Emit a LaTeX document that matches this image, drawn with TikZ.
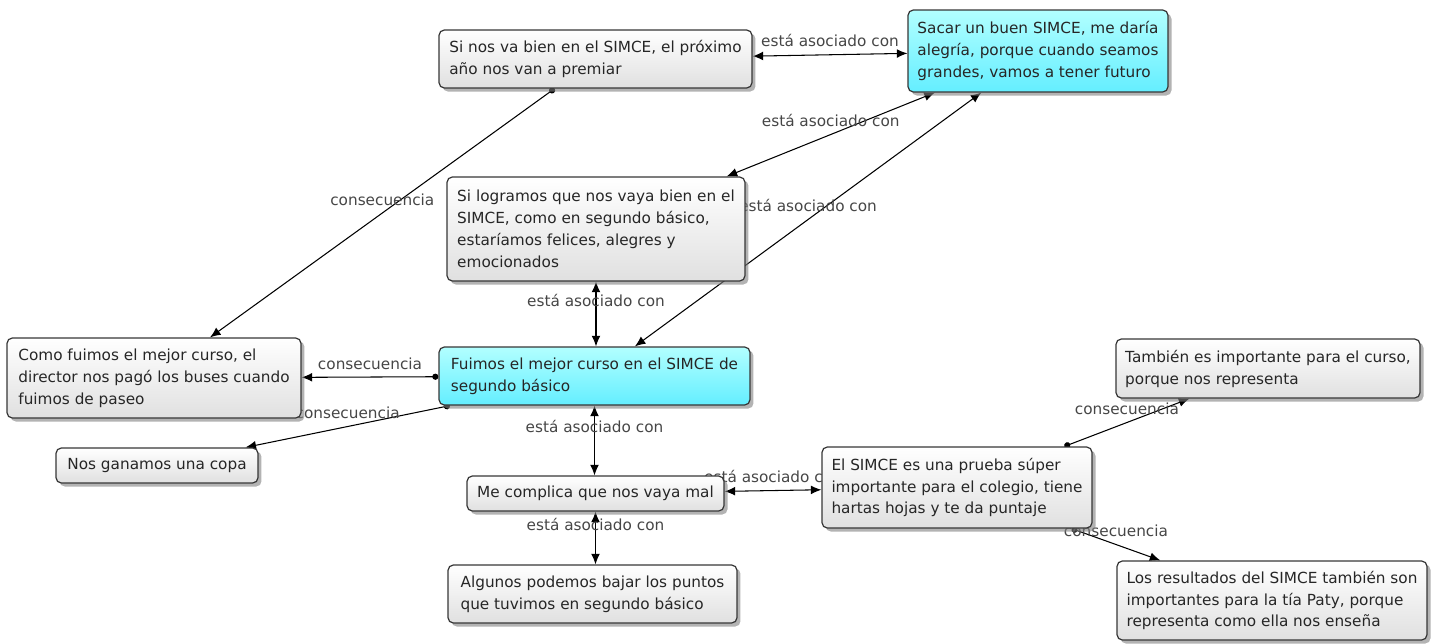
\documentclass[tikz,border=0pt]{standalone}
\usepackage{fontspec}
\setmainfont{DejaVu Sans}
\usetikzlibrary{arrows.meta,shadows,backgrounds}
\definecolor{cianclaro}{RGB}{178,255,255}
\definecolor{cianoscuro}{RGB}{100,238,255}
\definecolor{grisclaro}{RGB}{224,224,224}
\definecolor{borde}{RGB}{55,55,55}
\definecolor{etiq}{RGB}{70,70,70}
\tikzset{
	concepto/.style={draw=borde, line width=0.7pt, rounded corners=3pt, align=left,
		inner xsep=4pt, inner ysep=2pt, top color=white, bottom color=grisclaro,
		drop shadow={shadow xshift=2pt, shadow yshift=-2pt, opacity=0.6},
		font=\fontsize{8.7}{12.5}\selectfont, text=black!85},
	destacado/.style={concepto, top color=cianclaro, bottom color=cianoscuro},
	etiqueta/.style={font=\fontsize{8.7}{10}\selectfont, text=etiq, inner sep=1pt, above=3pt},
	asocia/.style={{Latex[length=6pt,width=5pt]}-{Latex[length=6pt,width=5pt]}, line width=0.6pt},
	conduce/.style={{Circle[length=3.5pt]}-{Latex[length=6pt,width=5pt]}, line width=0.6pt}
}
\begin{document}
\begin{tikzpicture}[x=0.02cm, y=-0.02cm]
	\useasboundingbox (0,0) rectangle (1442,643);

	\node[concepto, minimum width=6.26cm, minimum height=1.16cm] (premio) at (595.5,59)
		{Si nos va bien en el SIMCE, el próximo\\año nos van a premiar};
	\node[destacado, minimum width=5.2cm, minimum height=1.64cm] (alegria) at (1038,51)
		{Sacar un buen SIMCE, me daría\\alegría, porque cuando seamos\\grandes, vamos a tener futuro};
	\node[concepto, minimum width=5.96cm, minimum height=2.08cm] (logramos) at (596,229)
		{Si logramos que nos vaya bien en el\\SIMCE, como en segundo básico,\\estaríamos felices, alegres y\\emocionados};
	\node[destacado, minimum width=6.22cm, minimum height=1.16cm] (mejor) at (594.5,376)
		{Fuimos el mejor curso en el SIMCE de\\segundo básico};
	\node[concepto, minimum width=5.88cm, minimum height=1.6cm] (buses) at (154,378)
		{Como fuimos el mejor curso, el\\director nos pagó los buses cuando\\fuimos de paseo};
	\node[concepto, minimum width=4.04cm, minimum height=0.7cm] (copa) at (157,465.5)
		{Nos ganamos una copa};
	\node[concepto, minimum width=5.14cm, minimum height=0.7cm] (complica) at (595.5,493.5)
		{Me complica que nos vaya mal};
	\node[concepto, minimum width=5.78cm, minimum height=1.16cm] (bajar) at (592.5,594)
		{Algunos podemos bajar los puntos\\que tuvimos en segundo básico};
	\node[concepto, minimum width=5.4cm, minimum height=1.62cm] (prueba) at (957,487.5)
		{El SIMCE es una prueba súper\\importante para el colegio, tiene\\hartas hojas y te da puntaje};
	\node[concepto, minimum width=6.08cm, minimum height=1.18cm] (curso) at (1268,368.5)
		{También es importante para el curso,\\porque nos representa};
	\node[concepto, minimum width=6.2cm, minimum height=1.58cm] (tia) at (1272,600.5)
		{Los resultados del SIMCE también son\\importantes para la tía Paty, porque\\representa como ella nos enseña};

	% enlaces bajo los conceptos
	\begin{pgfonlayer}{background}
		\draw[asocia] (premio) -- node[etiqueta] (e1) {está asociado con} (alegria);
		\draw[asocia] (logramos) -- node[etiqueta] (e2) {está asociado con} (alegria);
		\draw[asocia] (mejor) -- node[etiqueta] (e3) {está asociado con} (alegria);
		\draw[asocia] (logramos.south) -- node[etiqueta] (e4) {está asociado con} (logramos.south |- mejor.north);
		\draw[asocia] (mejor.south) -- node[etiqueta] (e5) {está asociado con} (mejor.south |- complica.north);
		\draw[asocia] (complica.south) -- node[etiqueta] (e6) {está asociado con} (complica.south |- bajar.north);
		\draw[asocia] (complica) -- node[etiqueta] (e7) {está asociado con} (prueba);

		\draw[conduce] (premio) -- node[etiqueta] (c1) {consecuencia} (buses);
		\draw[conduce] (mejor) -- node[etiqueta] (c2) {consecuencia} (buses);
		\draw[conduce] (mejor) -- node[etiqueta] (c3) {consecuencia} (copa);
		\draw[conduce] (prueba) -- node[etiqueta] (c4) {consecuencia} (curso);
		\draw[conduce] (prueba) -- node[etiqueta] (c5) {consecuencia} (tia);
	\end{pgfonlayer}
\end{tikzpicture}
\end{document}
